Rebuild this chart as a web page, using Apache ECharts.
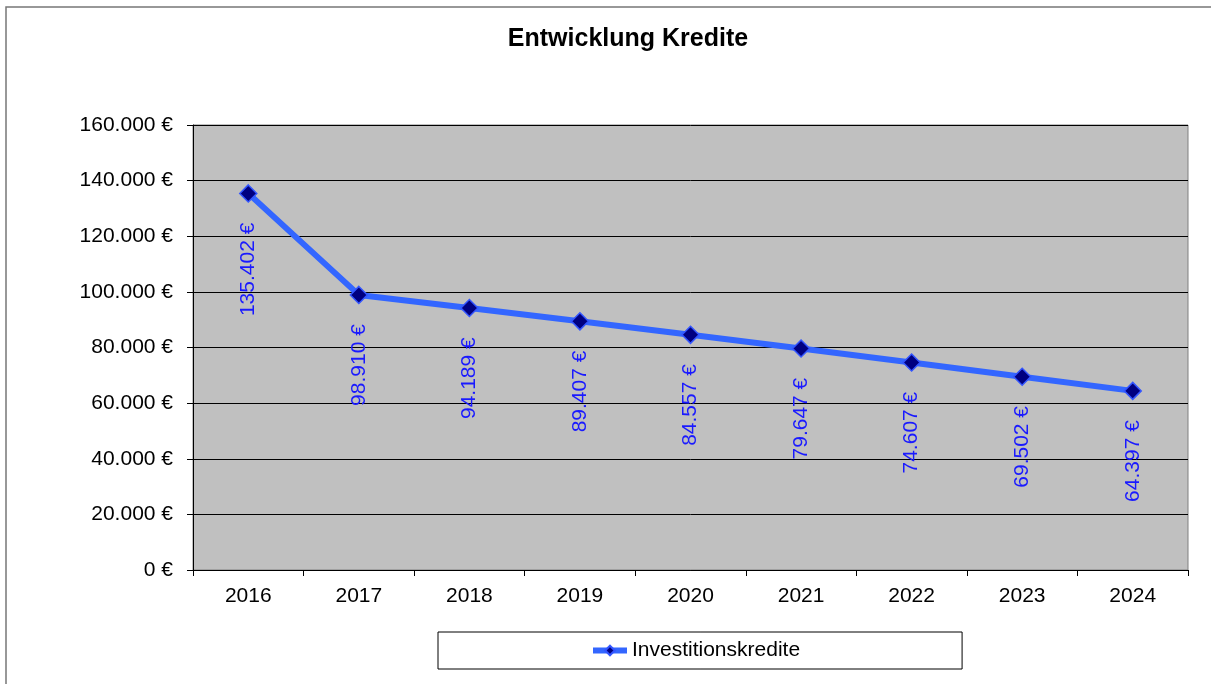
<!DOCTYPE html>
<html>
<head>
<meta charset="utf-8">
<script src="https://cdn.jsdelivr.net/npm/echarts@6/dist/echarts.min.js"></script>
<style>
  html, body { margin: 0; padding: 0; background: #fff; }
  #chart { width: 1211px; height: 684px; }
</style>
</head>
<body>
<div id="chart"></div>
<script>
// Jahre und Kreditstand
const years = ['2016', '2017', '2018', '2019', '2020', '2021', '2022', '2023', '2024'];
const kredite = [135402, 98910, 94189, 89407, 84557, 79647, 74607, 69502, 64397];
const yTicks = [0, 20000, 40000, 60000, 80000, 100000, 120000, 140000, 160000];

function euro(v) {
  return String(v).replace(/\B(?=(\d{3})+(?!\d))/g, '.') + '\u00a0€';
}

const chart = echarts.init(document.getElementById('chart'));

const option = {
  backgroundColor: '#fff',
  textStyle: { fontFamily: 'Liberation Sans, Arial, sans-serif' },
  title: {
    text: 'Entwicklung Kredite',
    left: 623,
    top: 22,
    textAlign: 'center',
    textStyle: { fontSize: 25, fontWeight: 'bold', color: '#000' }
  },
  graphic: [{
    type: 'rect',
    shape: { x: 6, y: 7, width: 1210, height: 682 },
    style: { fill: 'none', stroke: '#777', lineWidth: 1.5 },
    silent: true
  }],
  grid: {
    left: 193, right: 23, top: 125, bottom: 114,
    show: true,
    backgroundColor: '#c0c0c0',
    borderColor: '#808080',
    borderWidth: 1
  },
  legend: {
    left: 438,
    top: 632,
    padding: [8, 162, 8, 152],
    borderColor: '#000',
    borderWidth: 1,
    backgroundColor: '#fff',
    itemWidth: 34,
    itemHeight: 12,
    itemGap: 4,
    lineStyle: { width: 6, color: '#3366ff' },
    textStyle: { fontSize: 21, color: '#000', fontFamily: 'Liberation Sans, Arial, sans-serif' },
    data: ['Investitionskredite']
  },
  xAxis: {
    type: 'category',
    data: years,
    boundaryGap: true,
    axisLine: { lineStyle: { color: '#000', width: 1 } },
    axisTick: { show: true, length: 6, lineStyle: { color: '#000' } },
    axisLabel: { fontSize: 21, color: '#000', margin: 16 }
  },
  yAxis: {
    type: 'value',
    min: 0,
    max: 160000,
    interval: 20000,
    axisLine: { show: true, lineStyle: { color: '#000', width: 1 } },
    axisTick: { show: true, length: 6, lineStyle: { color: '#000' } },
    axisLabel: {
      fontSize: 21, color: '#000', margin: 20,
      formatter: function (v) { return yTicks.indexOf(v) >= 0 ? euro(v) : ''; }
    },
    splitLine: { show: true, lineStyle: { color: '#000', width: 1 } }
  },
  series: [{
    name: 'Investitionskredite',
    type: 'line',
    data: kredite,
    symbol: 'diamond',
    symbolSize: 17,
    lineStyle: { color: '#3366ff', width: 6 },
    itemStyle: { color: '#000080', borderColor: '#3355ff', borderWidth: 1.5 },
    label: {
      show: true,
      position: 'bottom',
      distance: 20,
      rotate: 90,
      align: 'right',
      verticalAlign: 'middle',
      fontSize: 21,
      color: '#1a1aff',
      formatter: function (p) { return euro(p.value); }
    },
    animation: false
  }]
};

chart.setOption(option);
</script>
</body>
</html>
